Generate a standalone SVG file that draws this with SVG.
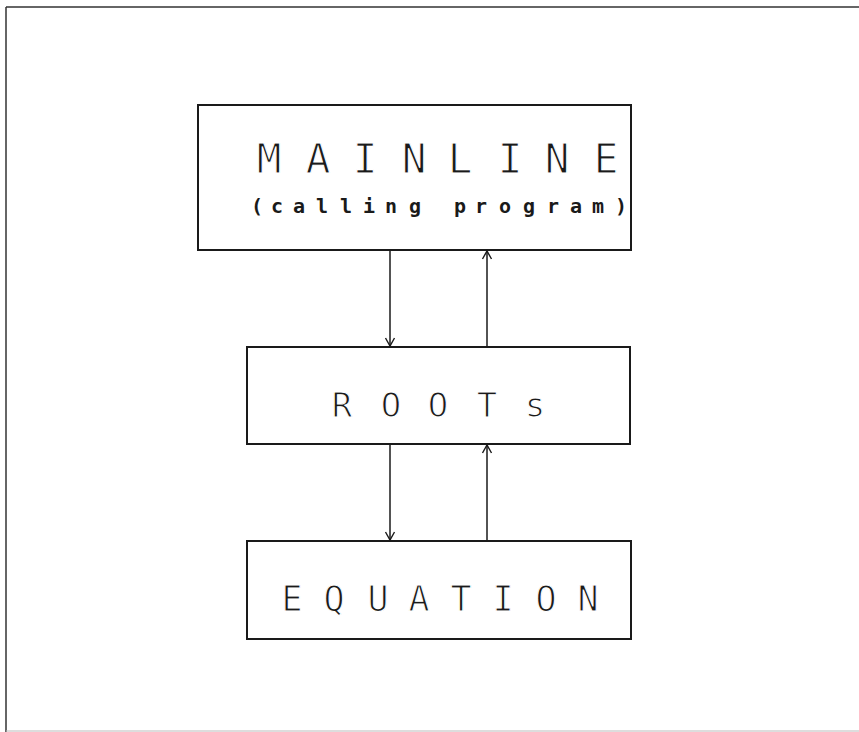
<svg xmlns="http://www.w3.org/2000/svg" width="859" height="732" viewBox="0 0 859 732">
<defs>
<style>
.box{fill:none;stroke:#1a1a1a;stroke-width:2}
.conn{stroke:#1a1a1a;stroke-width:1.5;fill:none}
.t{font-family:"DejaVu Sans Mono","Liberation Mono",monospace;fill:#1a1a1a;text-anchor:middle}
.thin{stroke:#ffffff;stroke-width:1.1}
</style>
<marker id="ah" markerUnits="userSpaceOnUse" markerWidth="14" markerHeight="14" viewBox="-10 -7 14 14" refX="0" refY="0" orient="auto">
<path d="M-8,-4.5 L0,0 L-8,4.5" fill="none" stroke="#1a1a1a" stroke-width="1.4"/>
</marker>
</defs>
<rect width="859" height="732" fill="#ffffff"/>
<g id="frame">
<line x1="6" y1="7" x2="859" y2="7" stroke="#333" stroke-width="1.5"/>
<line x1="6" y1="7" x2="6" y2="732" stroke="#333" stroke-width="1.5"/>
<line x1="6" y1="731" x2="859" y2="731" stroke="#bbb" stroke-width="1"/>
</g>
<g id="mainline">
<rect class="box" x="198" y="105" width="433" height="145"/>
<text class="t thin" font-size="41" x="269 318 365 414 460 510 557 606" y="173">MAINLINE</text>
<text class="t" font-size="20" font-weight="bold" x="257 277 299 322 346 369 391 415 438 460 481 505 529 553 576 598 621" y="213">(calling program)</text>
</g>
<g id="roots">
<rect class="box" x="247" y="347" width="383" height="97"/>
<text class="t thin" font-size="34" x="342 391 438 487 535" y="417">ROOTs</text>
</g>
<g id="equation">
<rect class="box" x="247" y="541" width="384" height="98"/>
<text class="t thin" font-size="35" x="292 334 378 419 461 503 546 588" y="611">EQUATION</text>
</g>
<g id="connectors">
<line class="conn" x1="390" y1="251" x2="390" y2="346" marker-end="url(#ah)"/>
<line class="conn" x1="487" y1="347" x2="487" y2="251" marker-end="url(#ah)"/>
<line class="conn" x1="390" y1="445" x2="390" y2="540" marker-end="url(#ah)"/>
<line class="conn" x1="487" y1="541" x2="487" y2="445" marker-end="url(#ah)"/>
</g>
</svg>
